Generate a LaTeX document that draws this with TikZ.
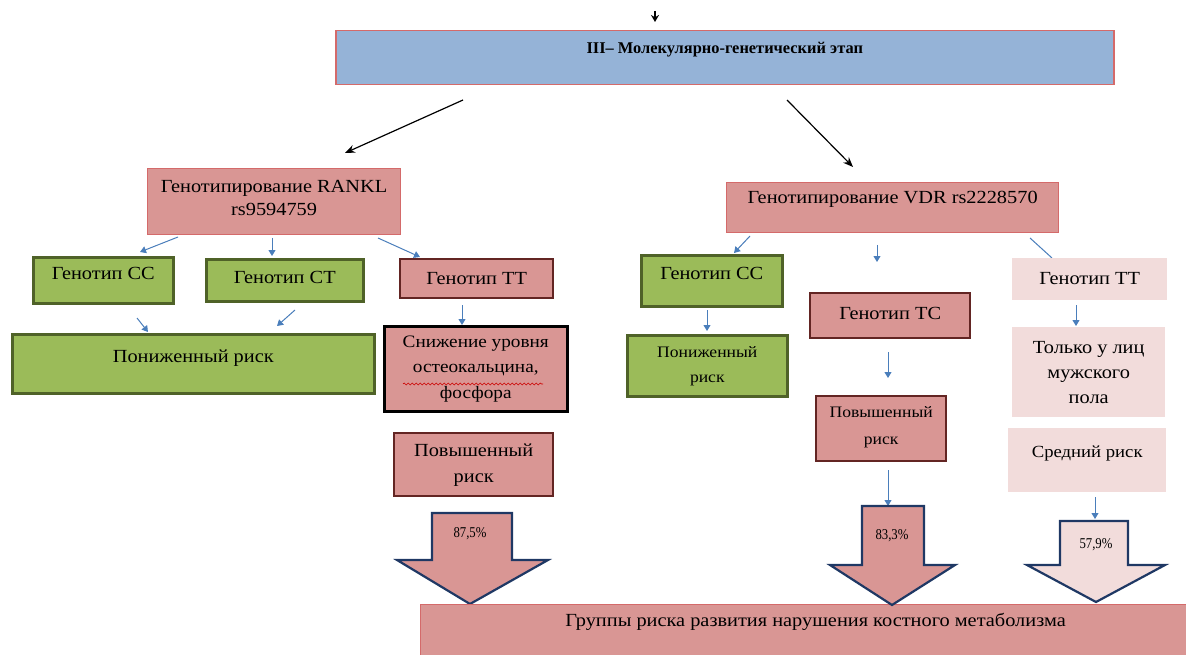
\documentclass[tikz,border=0pt]{standalone}
\usepackage{fontspec}
\setmainfont{Liberation Serif}[FakeStretch=1.1]
\newfontfamily\titlefont{Liberation Serif}[FakeStretch=1.0]
\newfontfamily\condfont{Liberation Serif}[FakeStretch=0.85]
\usetikzlibrary{arrows.meta,decorations.pathmorphing}
\definecolor{blueF}{HTML}{95B3D7}
\definecolor{redB}{HTML}{D46A6A}
\definecolor{pinkF}{HTML}{D99694}
\definecolor{greenF}{HTML}{9BBB59}
\definecolor{greenB}{HTML}{4F6228}
\definecolor{darkR}{HTML}{632523}
\definecolor{lightP}{HTML}{F2DCDB}
\definecolor{arrB}{HTML}{4A7EBB}
\definecolor{bigB}{HTML}{1F3864}
\tikzset{
  box/.style={draw, anchor=north west, inner xsep=2pt, inner ysep=0pt, align=center,
    font=\fontsize{18.5}{25}\selectfont},
  topline/.style 2 args={text height=#1, text depth=#2-#1},
  greenbox/.style={box, fill=greenF, draw=greenB, line width=2.6pt},
  redbox/.style={box, fill=pinkF, draw=darkR, line width=2.4pt},
  pinkbox/.style={box, fill=pinkF, draw=redB, line width=1.2pt},
  lightbox/.style={box, fill=lightP, draw=none},
  blarrow/.style={draw=arrB, line width=1pt, -{Triangle[length=6pt,width=7pt]}},
  blkarrow/.style={draw=black, line width=1.2pt, -{Stealth[length=10pt,width=8pt]}},
  bigarrow/.style={draw=bigB, line width=2.2pt, line join=miter},
  pct/.style={font=\condfont\fontsize{15}{16}\selectfont, inner sep=0pt}
}
\begin{document}
\begin{tikzpicture}[x=1pt,y=-1pt]
\useasboundingbox (0,0) rectangle (1186,655);

% top
\node[box, fill=blueF, draw=redB, line width=1.5pt, minimum width=778pt, topline={23}{54},
  font=\titlefont\fontsize{16.4}{18}\selectfont\bfseries] (top) at (335,30) {III– Молекулярно-генетический этап};
\coordinate (ts) at (655,11);
\coordinate (te) at (655,22);
\draw[line width=1.2pt, -{Stealth[length=7pt,width=8pt]}] (ts) -- (te);

\coordinate (bl1) at (463,100);
\coordinate (bl2) at (345,153);
\coordinate (br1) at (787,100);
\coordinate (br2) at (853,167);
\draw[blkarrow] (bl1) -- (bl2);
\draw[blkarrow] (br1) -- (br2);

% left branch
\node[pinkbox, minimum width=253pt, minimum height=66pt, font=\fontsize{18.5}{23}\selectfont] (rankl) at (147,168)
  {Генотипирование RANKL\\rs9594759\\[-15pt]};
\node[greenbox, minimum width=140pt, topline={22}{46}] (ccl) at (32,256) {Генотип СС};
\node[greenbox, minimum width=157pt, topline={24}{42}] (ctl) at (205,258) {Генотип СТ};
\node[redbox, minimum width=153pt, topline={25}{39}] (ttl) at (399,258) {Генотип ТТ};
\draw[blarrow] (178,237) coordinate (a1s) -- (140,252) coordinate (a1e);
\draw[blarrow] (272,238) coordinate (a2s) -- (272,256) coordinate (a2e);
\draw[blarrow] (378,238) coordinate (a3s) -- (420,257) coordinate (a3e);

\node[greenbox, minimum width=362pt, topline={28}{59}] (prl) at (11,333) {Пониженный риск};
\node[box, fill=pinkF, draw=black, line width=2.6pt, minimum width=183pt, minimum height=85pt,
  font=\fontsize{17.5}{25.5}\selectfont] (sn) at (383,325)
  {Снижение уровня\\остеокальцина,\\фосфора};
\draw[blarrow] (137,318) coordinate (a4s) -- (148,332) coordinate (a4e);
\draw[blarrow] (295,310) coordinate (a5s) -- (277,326) coordinate (a5e);
\draw[blarrow] (462,305) coordinate (a6s) -- (462,325) coordinate (a6e);
\draw[red!80!black, line width=0.6pt, decorate, decoration={snake, amplitude=1pt, segment length=4pt}]
  (403,384) coordinate (w1) -- (543,384) coordinate (w2);

\node[redbox, minimum width=159pt, minimum height=63pt, font=\fontsize{18.5}{26}\selectfont] (pvl) at (393,432) {Повышенный\\риск};

\draw[bigarrow, fill=pinkF] (432,513) coordinate (bal) -- (512,513) -- (512,560) -- (548,560)
  -- (470,604) coordinate (balt) -- (397,560) -- (432,560) -- cycle;
\node[pct] (p1) at (470,534) {87,5\%};

% bottom
\node[pinkbox, minimum width=790pt, topline={22}{62}] (bot) at (420,604)
  {Группы риска развития нарушения костного метаболизма};

% right branch
\node[pinkbox, minimum width=332pt, topline={21}{50}] (vdr) at (726,182) {Генотипирование VDR rs2228570};
\draw[blarrow] (750,236) coordinate (b1s) -- (734,253) coordinate (b1e);
\draw[blarrow] (877,245) coordinate (b2s) -- (877,262) coordinate (b2e);
\draw[draw=arrB, line width=1pt] (1030,238) coordinate (b3s) -- (1052,258) coordinate (b3e);

\node[greenbox, minimum width=141pt, topline={24}{51}] (ccr) at (640,254) {Генотип СС};
\draw[blarrow] (707,310) coordinate (b4s) -- (707,331) coordinate (b4e);
\node[greenbox, minimum width=160pt, minimum height=61pt, font=\fontsize{16}{25}\selectfont] (prr) at (626,334) {Пониженный\\риск};

\node[redbox, minimum width=160pt, topline={26}{45}] (tcr) at (809,292) {Генотип ТС};
\draw[blarrow] (888,352) coordinate (b5s) -- (888,378) coordinate (b5e);
\node[redbox, minimum width=130pt, minimum height=65pt, font=\fontsize{16}{27}\selectfont] (pvr) at (815,395) {Повышенный\\риск\\[-20pt]};
\draw[blarrow] (888,470) coordinate (b6s) -- (888,506) coordinate (b6e);

\draw[bigarrow, fill=pinkF] (862,506) coordinate (bam) -- (924,506) -- (924,565) -- (955,565)
  -- (892,605) coordinate (bamt) -- (830,565) -- (862,565) -- cycle;
\node[pct] (p2) at (892,536) {83,3\%};

\node[lightbox, minimum width=155pt, topline={26}{42}] (ttr) at (1012,258) {Генотип ТТ};
\draw[blarrow] (1076,305) coordinate (b7s) -- (1076,326) coordinate (b7e);
\node[lightbox, minimum width=153pt, minimum height=90pt] (only) at (1012,327) {Только у лиц\\мужского\\пола};
\node[lightbox, minimum width=158pt, topline={29}{64}, font=\fontsize{17}{20}\selectfont] (sr) at (1008,428) {Средний риск};
\draw[blarrow] (1095,497) coordinate (b8s) -- (1095,519) coordinate (b8e);

\draw[bigarrow, fill=lightP] (1060,521) coordinate (bar) -- (1128,521) -- (1128,565) -- (1165,565)
  -- (1096,602) coordinate (bart) -- (1027,565) -- (1060,565) -- cycle;
\node[pct] (p3) at (1096,545) {57,9\%};
\end{tikzpicture}
\end{document}
